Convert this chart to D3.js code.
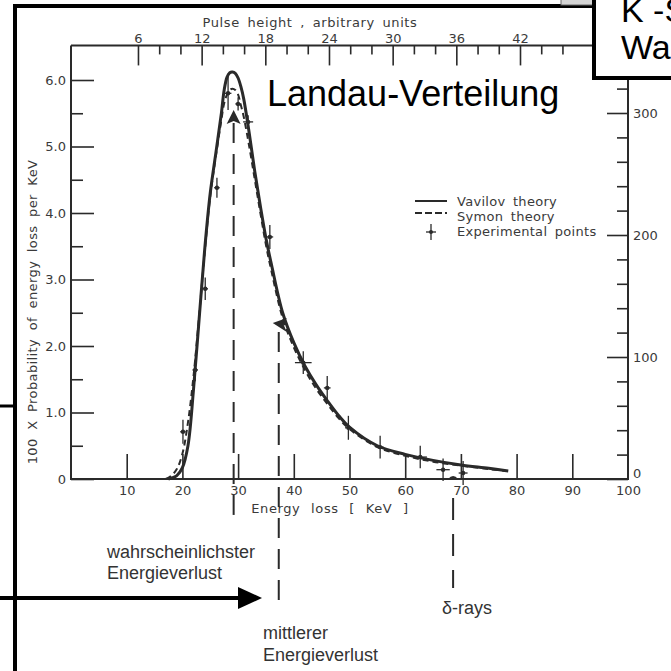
<!DOCTYPE html>
<html>
<head>
<meta charset="utf-8">
<script src="https://cdn.jsdelivr.net/npm/d3@7"></script>
<style>
  html, body { margin: 0; padding: 0; background: #fff; }
  svg { display: block; }
  .ax text { font-family: "DejaVu Sans", sans-serif; font-size: 13px; fill: #3a3a3a; }
  .ax line { stroke: #2a2a2a; stroke-width: 1.6; }
  .ax path { display: none; }
</style>
</head>
<body>
<svg id="chart" width="671" height="671"></svg>
<script>
// ---- Energy-loss spectrum: Vavilov / Symon theory and measured points ----
const vavilovEnergy = [17.5, 19, 20, 21, 22, 23, 24, 25, 26, 27, 27.5, 28, 28.5, 29, 29.5, 30, 30.5, 31, 32, 33, 34, 35, 36, 38, 40, 42, 44, 46, 48, 50, 55, 60, 65, 70, 75, 78.5];
const vavilovProb   = [0, 0.05, 0.17, 0.5, 1.35, 2.4, 3.45, 4.3, 4.9, 5.5, 5.85, 6.04, 6.11, 6.12, 6.1, 6.03, 5.9, 5.72, 5.2, 4.62, 4.1, 3.62, 3.22, 2.5, 2.05, 1.7, 1.42, 1.18, 0.96, 0.78, 0.5, 0.37, 0.28, 0.21, 0.16, 0.12];

const symonEnergy = [17, 18, 19, 20, 21, 22, 23, 24, 25, 26, 27, 27.5, 28, 28.5, 29, 29.5, 30, 30.5, 31, 32, 33, 34, 35, 36, 38, 40, 42, 44, 46, 48, 50, 55, 60, 65, 70, 75, 78];
const symonProb   = [0, 0.05, 0.15, 0.38, 0.85, 1.55, 2.45, 3.4, 4.25, 4.85, 5.4, 5.65, 5.78, 5.85, 5.87, 5.85, 5.78, 5.62, 5.45, 5.0, 4.5, 4.0, 3.52, 3.12, 2.42, 1.98, 1.64, 1.36, 1.13, 0.92, 0.75, 0.48, 0.35, 0.26, 0.2, 0.15, 0.12];

const expEnergy    = [20.1, 22.3, 24.1, 26.2, 28.2, 30.0, 31.8, 35.7, 41.7, 46.0, 49.8, 55.5, 62.7, 66.8, 70.4];
const expProb      = [0.71, 1.64, 2.86, 4.38, 5.8, 5.64, 5.37, 3.64, 1.75, 1.37, 0.77, 0.48, 0.33, 0.14, 0.09];
const expProbErr   = [0.18, 0.17, 0.17, 0.15, 0.25, 0.1, 0.1, 0.18, 0.17, 0.18, 0.18, 0.17, 0.17, 0.17, 0.18];
const expEnergyErr = [0.5, 0.5, 0.5, 0.5, 0.6, 0.5, 0.9, 0.6, 1.5, 0.6, 0.6, 0.6, 1.2, 1.2, 0.8];

// Axis ticks
const energyTicks  = [10, 20, 30, 40, 50, 60, 70, 80, 90];
const probMajor    = [0, 1, 2, 3, 4, 5, 6];
const probLabels   = ["0", "1.0", "2.0", "3.0", "4.0", "5.0", "6.0"];
const probMinor    = [0.5, 1.5, 2.5, 3.5, 4.5, 5.5];
const pulseMajor   = [6, 12, 18, 24, 30, 36, 42];
const pulseMinor   = [8, 10, 14, 16, 20, 22, 26, 28, 32, 34, 38, 40, 44, 46];
const countMajor   = [0, 100, 200, 300];
const countMinor   = [20, 40, 60, 80, 120, 140, 160, 180, 220, 240, 260, 280, 320, 340];

// Marked energies (keV) and the probability where each marker sits
const mostProbableE = 29.2, mostProbableP = 5.55;
const meanLossE = 37.3, meanLossP = 2.3;
const deltaRayE = 68.6;

// Texts
const legendItems = ["Vavilov theory", "Symon theory", "Experimental points"];

const svg = d3.select("#chart");

// Scales
const x = d3.scaleLinear().domain([0, 100]).range([71, 628]);
const y = d3.scaleLinear().domain([0, 6]).range([479, 80]);
const pulse = d3.scaleLinear().domain([0, 42]).range([74.3, 520]);
const counts = d3.scaleLinear().domain([0, 300]).range([479, 113]);

const ink = "#2a2a2a";

// ---- Axes ----
// frame lines of the plot
svg.append("path")
  .attr("d", `M${x(0)},${y(6.52)}V${y(0)}H${x(100)}V${y(6.52)}H${x(0)}`)
  .attr("fill", "none").attr("stroke", ink).attr("stroke-width", 2);

// left: ticks inside, labels outside
svg.append("g").attr("class", "ax").attr("transform", `translate(${x(0)},0)`)
  .call(d3.axisRight(y).tickValues(probMajor).tickSize(23).tickFormat(""));
svg.append("g").attr("class", "ax").attr("transform", `translate(${x(0)},0)`)
  .call(d3.axisRight(y).tickValues(probMinor).tickSize(12).tickFormat(""));
svg.append("g").attr("class", "ax").attr("transform", `translate(${x(0)},0)`)
  .call(d3.axisLeft(y).tickValues(probMajor).tickSize(0).tickPadding(5)
    .tickFormat((d, i) => probLabels[i]));

// bottom: energy loss
svg.append("g").attr("class", "ax").attr("transform", `translate(0,${y(0)})`)
  .call(d3.axisTop(x).tickValues(energyTicks).tickSize(25).tickFormat(""));
svg.append("g").attr("class", "ax").attr("transform", `translate(0,${y(0)})`)
  .call(d3.axisBottom(x).tickValues(energyTicks.concat([100])).tickSize(0).tickPadding(7)
    .tickFormat(d3.format("d")));

// top: pulse height
svg.append("g").attr("class", "ax").attr("transform", `translate(0,${y(6.52)})`)
  .call(d3.axisBottom(pulse).tickValues(pulseMajor).tickSize(20).tickFormat(""));
svg.append("g").attr("class", "ax").attr("transform", `translate(0,${y(6.52)})`)
  .call(d3.axisBottom(pulse).tickValues(pulseMinor).tickSize(9).tickFormat(""));
svg.append("g").attr("class", "ax").attr("transform", `translate(0,${y(6.52)})`)
  .call(d3.axisTop(pulse).tickValues(pulseMajor).tickSize(0).tickPadding(2)
    .tickFormat(d3.format("d")));

// right: counts (the "0" label sits just above the corner)
svg.append("g").attr("class", "ax").attr("transform", `translate(${x(100)},0)`)
  .call(d3.axisLeft(counts).tickValues(countMajor).tickSize(21).tickFormat(""));
svg.append("g").attr("class", "ax").attr("transform", `translate(${x(100)},0)`)
  .call(d3.axisLeft(counts).tickValues(countMinor).tickSize(11).tickFormat(""));
svg.append("g").attr("class", "ax").attr("transform", `translate(${x(100)},0)`)
  .call(d3.axisRight(counts).tickValues(countMajor).tickSize(0).tickPadding(5)
    .tickFormat(d3.format("d")))
  .selectAll("text").attr("dy", d => d === 0 ? "-0.1em" : "0.32em");

// axis titles
const titleFont = { family: "DejaVu Sans, sans-serif", size: 13 };
svg.append("text").attr("x", 310).attr("y", 27).attr("text-anchor", "middle")
  .attr("font-family", titleFont.family).attr("font-size", titleFont.size)
  .attr("fill", "#3a3a3a").attr("word-spacing", 3).attr("letter-spacing", 0.6)
  .text("Pulse height , arbitrary units");
svg.append("text").attr("x", 330).attr("y", 513).attr("text-anchor", "middle")
  .attr("font-family", titleFont.family).attr("font-size", titleFont.size)
  .attr("fill", "#3a3a3a").attr("word-spacing", 6).attr("letter-spacing", 0.6)
  .text("Energy loss [ KeV ]");
svg.append("text").attr("transform", "translate(37,312) rotate(-90)").attr("text-anchor", "middle")
  .attr("font-family", titleFont.family).attr("font-size", titleFont.size)
  .attr("fill", "#3a3a3a").attr("word-spacing", 4).attr("letter-spacing", 0.4)
  .text("100 X Probability of energy loss per KeV");

// ---- Marker lines for most probable / mean loss / delta rays ----
const dashStyle = "20,11";
svg.append("line")
  .attr("x1", x(mostProbableE)).attr("x2", x(mostProbableE))
  .attr("y1", y(mostProbableP) + 13).attr("y2", 525)
  .attr("stroke", ink).attr("stroke-width", 2).attr("stroke-dasharray", dashStyle);
svg.append("path")
  .attr("d", `M${x(mostProbableE)},${y(mostProbableP)}l-7,14l7,-3l7,3z`)
  .attr("fill", ink);

svg.append("line")
  .attr("x1", x(meanLossE)).attr("x2", x(meanLossE))
  .attr("y1", y(meanLossP) + 6).attr("y2", 606)
  .attr("stroke", ink).attr("stroke-width", 2).attr("stroke-dasharray", dashStyle);
svg.append("path")
  .attr("d", `M${x(meanLossE) - 6},${y(meanLossP) - 3}l14,-5l-3,7l3,7z`)
  .attr("fill", ink);

svg.append("line")
  .attr("x1", x(deltaRayE)).attr("x2", x(deltaRayE))
  .attr("y1", 498).attr("y2", 588)
  .attr("stroke", ink).attr("stroke-width", 2).attr("stroke-dasharray", "22,14");
svg.append("path")
  .attr("d", `M${x(deltaRayE) - 5},${y(0)}q5,-6 10,0z`)
  .attr("fill", ink);

// ---- Curves ----
const line = d3.line().x(d => x(d[0])).y(d => y(d[1])).curve(d3.curveCatmullRom.alpha(0.5));

svg.append("path")
  .datum(symonEnergy.map((e, i) => [e, symonProb[i]]))
  .attr("d", line).attr("fill", "none")
  .attr("stroke", ink).attr("stroke-width", 2).attr("stroke-dasharray", "6,4");

svg.append("path")
  .datum(vavilovEnergy.map((e, i) => [e, vavilovProb[i]]))
  .attr("d", line).attr("fill", "none")
  .attr("stroke", ink).attr("stroke-width", 3);

// ---- Experimental points with error bars ----
const pts = svg.append("g");
expEnergy.forEach((e, i) => {
  const g = pts.append("g").attr("stroke", ink).attr("stroke-width", 1.3);
  g.append("line").attr("x1", x(e)).attr("x2", x(e))
    .attr("y1", y(expProb[i] - expProbErr[i])).attr("y2", y(expProb[i] + expProbErr[i]));
  g.append("line").attr("x1", x(e - expEnergyErr[i])).attr("x2", x(e + expEnergyErr[i]))
    .attr("y1", y(expProb[i])).attr("y2", y(expProb[i]));
  pts.append("circle").attr("cx", x(e)).attr("cy", y(expProb[i])).attr("r", 2.2).attr("fill", ink);
});

// ---- Legend ----
const legend = svg.append("g").attr("transform", "translate(415,201)");
legend.append("line").attr("x1", 0).attr("x2", 32).attr("y1", 0).attr("y2", 0)
  .attr("stroke", ink).attr("stroke-width", 2);
legend.append("line").attr("x1", 0).attr("x2", 32).attr("y1", 12).attr("y2", 12)
  .attr("stroke", ink).attr("stroke-width", 2).attr("stroke-dasharray", "7,3");
legend.append("line").attr("x1", 16).attr("x2", 16).attr("y1", 23).attr("y2", 39)
  .attr("stroke", ink).attr("stroke-width", 1.3);
legend.append("line").attr("x1", 11).attr("x2", 21).attr("y1", 31).attr("y2", 31)
  .attr("stroke", ink).attr("stroke-width", 1.3);
legend.append("circle").attr("cx", 16).attr("cy", 31).attr("r", 2).attr("fill", ink);
legend.selectAll("text.lg").data(legendItems).enter().append("text")
  .attr("x", 42).attr("y", (d, i) => i * 15 + 1).attr("dy", "0.3em")
  .attr("font-family", "DejaVu Sans, sans-serif").attr("font-size", 13)
  .attr("fill", "#3a3a3a").attr("letter-spacing", 0.3).attr("word-spacing", 3)
  .text(d => d);

// ---- Slide overlay: frame, headings, annotations ----
const black = "#000";
svg.append("line").attr("x1", 13).attr("x2", 593).attr("y1", 6).attr("y2", 6)
  .attr("stroke", black).attr("stroke-width", 4);
svg.append("line").attr("x1", 15).attr("x2", 15).attr("y1", 4).attr("y2", 671)
  .attr("stroke", black).attr("stroke-width", 4);
svg.append("line").attr("x1", 0).attr("x2", 15).attr("y1", 406).attr("y2", 406)
  .attr("stroke", black).attr("stroke-width", 3);
svg.append("rect").attr("x", 561).attr("y", -3).attr("width", 32).attr("height", 8)
  .attr("fill", "#d4d4d4").attr("stroke", "#666").attr("stroke-width", 1);

// arrow pointing to the mean energy loss line
svg.append("line").attr("x1", 0).attr("x2", 242).attr("y1", 598).attr("y2", 598)
  .attr("stroke", black).attr("stroke-width", 4);
svg.append("path").attr("d", "M238,587L262,598L238,609Z").attr("fill", black);

// boxed heading at the top right
svg.append("rect").attr("x", 594).attr("y", -4).attr("width", 90).attr("height", 82)
  .attr("fill", "#fff").attr("stroke", black).attr("stroke-width", 4);
svg.append("text").attr("x", 621).attr("y", 22)
  .attr("font-family", "Liberation Sans, Arial, sans-serif").attr("font-size", 34).attr("fill", black)
  .text("K -S");
svg.append("text").attr("x", 621).attr("y", 59)
  .attr("font-family", "Liberation Sans, Arial, sans-serif").attr("font-size", 34).attr("fill", black)
  .text("Wa");

svg.append("text").attr("x", 267).attr("y", 106)
  .attr("font-family", "Liberation Sans, Arial, sans-serif").attr("font-size", 36).attr("fill", black)
  .text("Landau-Verteilung");

const noteFont = "Liberation Sans, Arial, sans-serif";
const notes = [
  { x: 107, y: 558, t: "wahrscheinlichster" },
  { x: 107, y: 579, t: "Energieverlust" },
  { x: 263, y: 639, t: "mittlerer" },
  { x: 263, y: 661, t: "Energieverlust" },
  { x: 442, y: 614, t: "δ-rays" }
];
svg.selectAll("text.note").data(notes).enter().append("text")
  .attr("x", d => d.x).attr("y", d => d.y)
  .attr("font-family", noteFont).attr("font-size", 18).attr("fill", "#333")
  .text(d => d.t);
</script>
</body>
</html>
